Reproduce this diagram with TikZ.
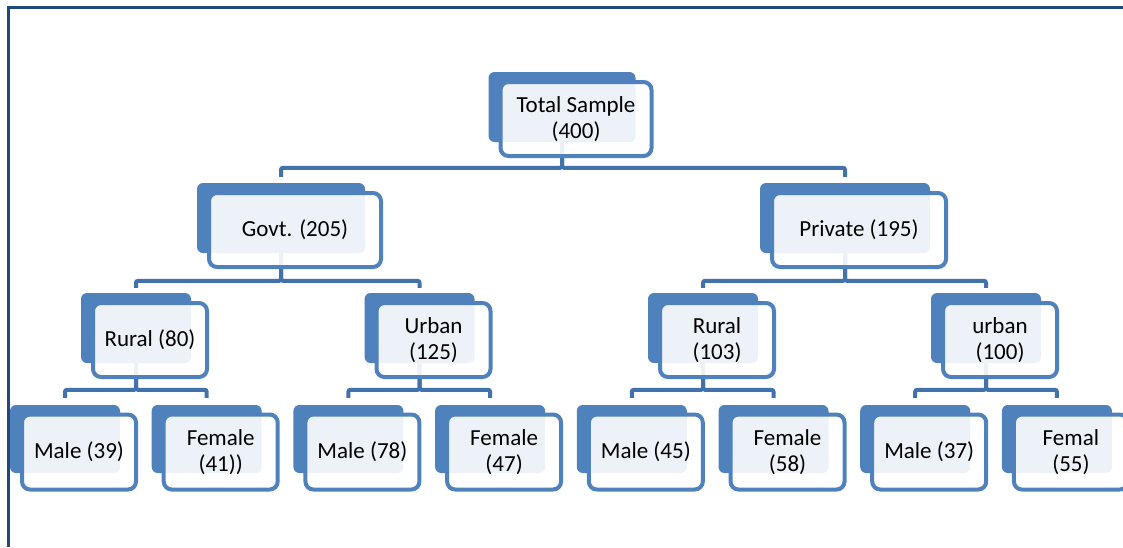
\documentclass[tikz,border=0pt]{standalone}
\usepackage{fontspec}
\setmainfont{Carlito}
\usetikzlibrary{calc}
\usetikzlibrary{positioning}
\usetikzlibrary{backgrounds}

\definecolor{boxblue}{RGB}{79,129,189}
\definecolor{linkblue}{RGB}{66,114,172}
\definecolor{framedark}{RGB}{31,73,125}

\tikzset{
    backbox/.style={fill=boxblue, rounded corners=6pt, inner sep=0pt},
    frontbox/.style={draw=boxblue, line width=4pt, fill=white, fill opacity=0.9,
        text opacity=1, rounded corners=8pt, inner sep=0pt, align=center,
        font=\fontsize{23}{25.5}\selectfont},
    link/.style={draw=linkblue, line width=4pt, rounded corners=2pt},
    frameline/.style={draw=framedark, line width=3pt}
}

\begin{document}
\begin{tikzpicture}[x=1pt, y=-1pt]
    \useasboundingbox (0,0) rectangle (1123,547);
    \draw [frameline] (8.5,547) -- (8.5,7.5) -- (1123,7.5);

    % back plates
    \node [backbox, minimum width=147pt, minimum height=70pt] (total) at (562,107) {};
    \node [backbox, minimum width=168pt, minimum height=70pt] (govt) at (281,218) {};
    \node [backbox, minimum width=170pt, minimum height=70pt] (private) at (845,218) {};
    \node [backbox, minimum width=110pt, minimum height=70pt] (grural) at (136,328) {};
    \node [backbox, minimum width=110pt, minimum height=70pt] (gurban) at (419.5,328) {};
    \node [backbox, minimum width=110pt, minimum height=70pt] (prural) at (703,328) {};
    \node [backbox, minimum width=110pt, minimum height=70pt] (purban) at (986,328) {};
    \node [backbox, minimum width=110pt, minimum height=68pt] (grmale) at (65,439) {};
    \node [backbox, minimum width=110pt, minimum height=68pt] (grfemale) at (206.7,439) {};
    \node [backbox, minimum width=110pt, minimum height=68pt] (gumale) at (348.4,439) {};
    \node [backbox, minimum width=110pt, minimum height=68pt] (gufemale) at (490.1,439) {};
    \node [backbox, minimum width=110pt, minimum height=68pt] (prmale) at (631.8,439) {};
    \node [backbox, minimum width=110pt, minimum height=68pt] (prfemale) at (773.5,439) {};
    \node [backbox, minimum width=110pt, minimum height=68pt] (pumale) at (915.2,439) {};
    \node [backbox, minimum width=110pt, minimum height=68pt] (pufemale) at (1056.9,439) {};

    % connectors
    \begin{scope}[on background layer]
        \draw [link] (total.south) |- ($(govt.north)+(0,-15)$) -- ($(govt.north)+(0,-6)$);
        \draw [link] (total.south) |- ($(private.north)+(0,-15)$) -- ($(private.north)+(0,-6)$);
        \draw [link] (govt.south) |- ($(grural.north)+(0,-12)$) -- ($(grural.north)+(0,-5)$);
        \draw [link] (govt.south) |- ($(gurban.north)+(0,-12)$) -- ($(gurban.north)+(0,-5)$);
        \draw [link] (private.south) |- ($(prural.north)+(0,-12)$) -- ($(prural.north)+(0,-5)$);
        \draw [link] (private.south) |- ($(purban.north)+(0,-12)$) -- ($(purban.north)+(0,-5)$);
        \draw [link] (grural.south) |- ($(grmale.north)+(0,-15)$) -- ($(grmale.north)+(0,-7)$);
        \draw [link] (grural.south) |- ($(grfemale.north)+(0,-15)$) -- ($(grfemale.north)+(0,-7)$);
        \draw [link] (gurban.south) |- ($(gumale.north)+(0,-15)$) -- ($(gumale.north)+(0,-7)$);
        \draw [link] (gurban.south) |- ($(gufemale.north)+(0,-15)$) -- ($(gufemale.north)+(0,-7)$);
        \draw [link] (prural.south) |- ($(prmale.north)+(0,-15)$) -- ($(prmale.north)+(0,-7)$);
        \draw [link] (prural.south) |- ($(prfemale.north)+(0,-15)$) -- ($(prfemale.north)+(0,-7)$);
        \draw [link] (purban.south) |- ($(pumale.north)+(0,-15)$) -- ($(pumale.north)+(0,-7)$);
        \draw [link] (purban.south) |- ($(pufemale.north)+(0,-15)$) -- ($(pufemale.north)+(0,-7)$);
    \end{scope}

    % front cards with the labels
    \node [frontbox, minimum width=151pt, minimum height=74pt] (totalf) at ($(total)+(14,12)$) {Total Sample\\(400)};
    \node [frontbox, minimum width=172pt, minimum height=74pt] (govtf) at ($(govt)+(14,12)$) {Govt. (205)};
    \node [frontbox, minimum width=174pt, minimum height=74pt] (privatef) at ($(private)+(14,12)$) {Private (195)};
    \node [frontbox, minimum width=114pt, minimum height=74pt] (gruralf) at ($(grural)+(14,12)$) {Rural (80)};
    \node [frontbox, minimum width=114pt, minimum height=74pt] (gurbanf) at ($(gurban)+(14,12)$) {Urban\\(125)};
    \node [frontbox, minimum width=114pt, minimum height=74pt] (pruralf) at ($(prural)+(14,12)$) {Rural\\(103)};
    \node [frontbox, minimum width=114pt, minimum height=74pt] (purbanf) at ($(purban)+(14,12)$) {urban\\(100)};
    \node [frontbox, minimum width=114pt, minimum height=75pt] (grmalef) at ($(grmale)+(14,13)$) {Male (39)};
    \node [frontbox, minimum width=114pt, minimum height=75pt] (grfemalef) at ($(grfemale)+(14,13)$) {Female\\(41))};
    \node [frontbox, minimum width=114pt, minimum height=75pt] (gumalef) at ($(gumale)+(14,13)$) {Male (78)};
    \node [frontbox, minimum width=114pt, minimum height=75pt] (gufemalef) at ($(gufemale)+(14,13)$) {Female\\(47)};
    \node [frontbox, minimum width=114pt, minimum height=75pt] (prmalef) at ($(prmale)+(14,13)$) {Male (45)};
    \node [frontbox, minimum width=114pt, minimum height=75pt] (prfemalef) at ($(prfemale)+(14,13)$) {Female\\(58)};
    \node [frontbox, minimum width=114pt, minimum height=75pt] (pumalef) at ($(pumale)+(14,13)$) {Male (37)};
    \node [frontbox, minimum width=114pt, minimum height=75pt] (pufemalef) at ($(pufemale)+(14,13)$) {Femal\\(55)};
\end{tikzpicture}
\end{document}
